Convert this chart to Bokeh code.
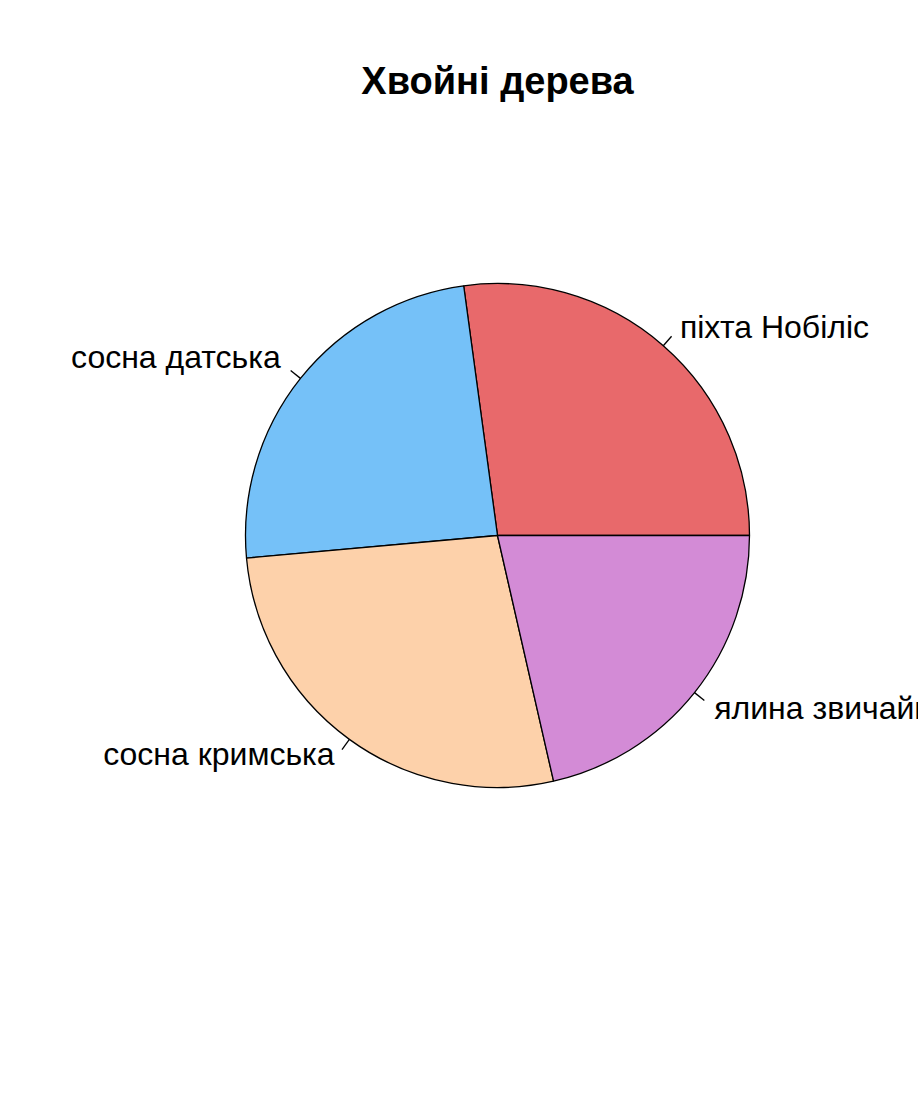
import numpy as np
from bokeh.plotting import figure
from bokeh.models import Range1d
from bokeh.core.properties import value
from bokeh.embed import file_html
from bokeh.resources import INLINE

title = "Хвойні дерева"
labels = ["піхта Нобіліс", "сосна датська", "сосна кримська", "ялина звичайна"]
counts = [38, 34, 38, 30]
colors = ["#E8696B", "#75C1F8", "#FDD1AA", "#D38BD6"]

W, H = 918, 1108
cx, cy, R = 497, 535, 252  # pixel centre and radius

p = figure(width=W, height=H, output_backend="svg", toolbar_location=None,
           min_border=0, outline_line_color=None)
p.x_range = Range1d(-cx / R, (W - cx) / R)
p.y_range = Range1d(-(H - cy) / R, cy / R)
p.axis.visible = False
p.grid.visible = False
p.background_fill_color = "white"
p.border_fill_color = "white"

vals = np.array(counts, dtype=float)
cum = np.concatenate([[0], np.cumsum(vals)]) / vals.sum() * 2 * np.pi
starts = cum[:-1]
ends = cum[1:]
p.wedge(x=0, y=0, radius=1, start_angle=starts, end_angle=ends,
        direction="anticlock", fill_color=colors, line_color="black", line_width=1.3)

mids = (starts + ends) / 2
for m, lab in zip(mids, labels):
    c, s = np.cos(m), np.sin(m)
    p.line([c, 1.05 * c], [s, 1.05 * s], line_color="black", line_width=1.3)
    p.text(x=[1.1 * c], y=[1.1 * s], text=[lab],
           text_align="left" if c > 0 else "right", text_baseline="middle",
           y_offset=0 if c > 0 else -6,
           text_font=value("Liberation Sans"), text_font_size="32px", text_color="black")

p.text(x=[0], y=[(cy - 80) / R], text=[title], text_align="center", text_baseline="middle",
       text_font=value("Liberation Sans"), text_font_size="38px", text_font_style="bold",
       text_color="black")

open("out.html", "w").write(file_html(p, INLINE))
